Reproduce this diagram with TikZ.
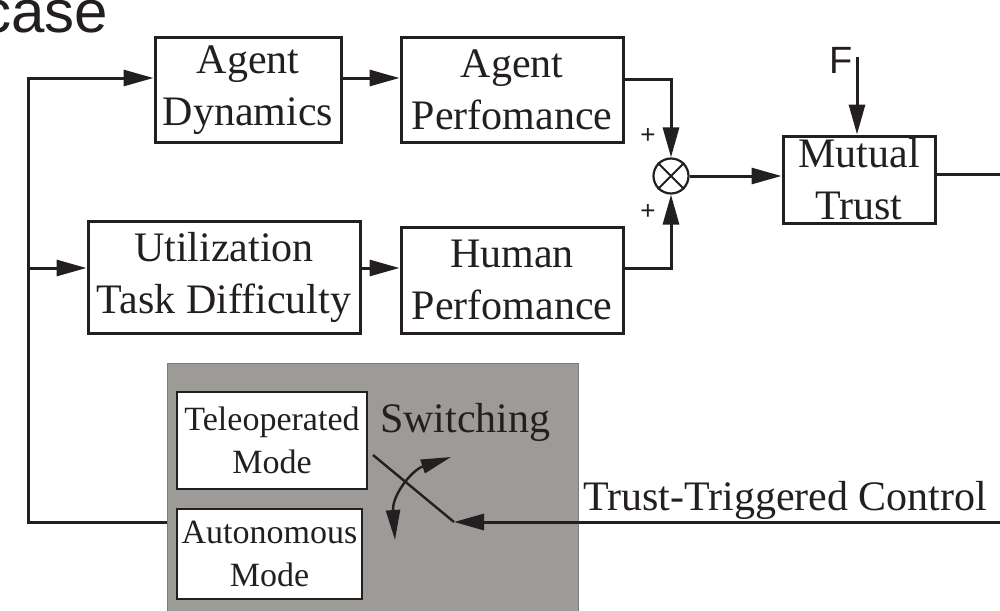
\documentclass[tikz,border=0pt]{standalone}
\usepackage{fontspec}
\setmainfont{Liberation Serif}
\newfontfamily\arialf{Liberation Sans}
\usetikzlibrary{arrows.meta,calc}
\definecolor{ink}{HTML}{231F20}
\definecolor{panel}{HTML}{9D9B97}
\definecolor{panelline}{HTML}{7E7C79}
\begin{document}
\begin{tikzpicture}[x=1pt,y=-1pt,
  blk/.style={draw=ink, line width=3pt, inner sep=0pt, align=center, text=ink,
              font=\fontsize{42}{52}\selectfont},
  mode/.style={draw=ink, fill=white, line width=2pt, inner sep=0pt, align=center, text=ink,
              font=\fontsize{34}{43}\selectfont},
  wire/.style={draw=ink, line width=3pt},
  arr/.style={wire, -{Triangle[length=30pt,width=16pt]}},
  lbl/.style={inner sep=0pt, text=ink},
]
\clip (0,0) rectangle (1000,610);
\useasboundingbox (0,0) rectangle (1000,610);

% title fragment
\node[lbl, anchor=base west, font=\arialf\fontsize{60}{64}\selectfont] (title) at (-19,33) {case};

% blocks
\node[blk, minimum width=186pt, minimum height=104pt] (ad) at (248,90) {Agent\\Dynamics};
\node[blk, minimum width=222pt, minimum height=104pt] (ap) at (512,90) {Agent\\Perfomance};
\node[blk, minimum width=272pt, minimum height=112pt] (ut) at (224,277) {Utilization\\Task Difficulty};
\node[blk, minimum width=222pt, minimum height=106pt] (hp) at (512,280) {Human\\Perfomance};
\node[blk, minimum width=152pt, minimum height=87pt] (mt) at (859,179.5) {Mutual\\Trust};

% summing junction
\node[draw=ink, line width=2.2pt, circle, minimum size=35pt, inner sep=0pt] (sum) at (671,176) {};
\draw[ink, line width=2pt] (sum.north west) -- (sum.south east);
\draw[ink, line width=2pt] (sum.north east) -- (sum.south west);
\node[lbl, font=\arialf\fontsize{26}{26}\selectfont] (p1) at (648,136) {+};
\node[lbl, font=\arialf\fontsize{26}{26}\selectfont] (p2) at (648,212) {+};

% switching panel
\node[draw=panelline, fill=panel, line width=1pt, minimum width=411pt, minimum height=262pt, inner sep=0pt] (gb) at (372.5,494) {};
\node[mode, minimum width=190pt, minimum height=97pt] (tm) at (272,440.5) {Teleoperated\\Mode};
\node[mode, minimum width=185pt, minimum height=90pt] (am) at (269.5,554) {Autonomous\\Mode};
\node[lbl, anchor=base west, font=\fontsize{42}{52}\selectfont] (swl) at (380,432) {Switching};

% switch
\coordinate (swa) at (373,455);
\coordinate (sw) at (454,522);
\draw[wire, line width=2.4pt] (swa) -- (sw);
\coordinate (ca) at (395,540);
\coordinate (cb) at (451,457);
\draw[wire, line width=2.4pt, {Triangle[length=30pt,width=14pt]}-{Triangle[length=30pt,width=14pt]}]
  (ca) .. controls (392,495) and (412,470) .. (cb);

% trust-triggered control input
\node[lbl, anchor=base west, font=\fontsize{42}{52}\selectfont] (ttc) at (583,510) {Trust-Triggered Control};
\coordinate (tin) at (1000,522);
\draw[arr] (tin) -- (sw);

% feedback to left
\coordinate (fbl) at (28,522);
\coordinate (adin) at ([yshift=12pt]ad.west);
\coordinate (utin) at ([yshift=9pt]ut.west);
\draw[arr] (gb.west |- sw) -- (fbl) |- (adin);
\draw[arr] (utin -| fbl) -- (utin);

% forward connections
\draw[arr] ([yshift=12pt]ad.east) -- ([yshift=12pt]ap.west);
\draw[arr] ([yshift=9pt]ut.east) -- ([yshift=12pt]hp.west);
\draw[arr] ([yshift=11pt]ap.east) -| (sum.north);
\draw[arr] ([yshift=12pt]hp.east) -| (sum.south);
\draw[arr] (sum.east) -- (sum.east -| mt.west);

% F input
\node[lbl, anchor=base west, font=\arialf\fontsize{38}{40}\selectfont] (fl) at (829,73) {F};
\coordinate (fin) at (857,57);
\draw[arr] (fin) -- (fin |- mt.north);

% output
\coordinate (out) at (1000,174);
\draw[wire] (mt.east |- out) -- (out);
\end{tikzpicture}
\end{document}
